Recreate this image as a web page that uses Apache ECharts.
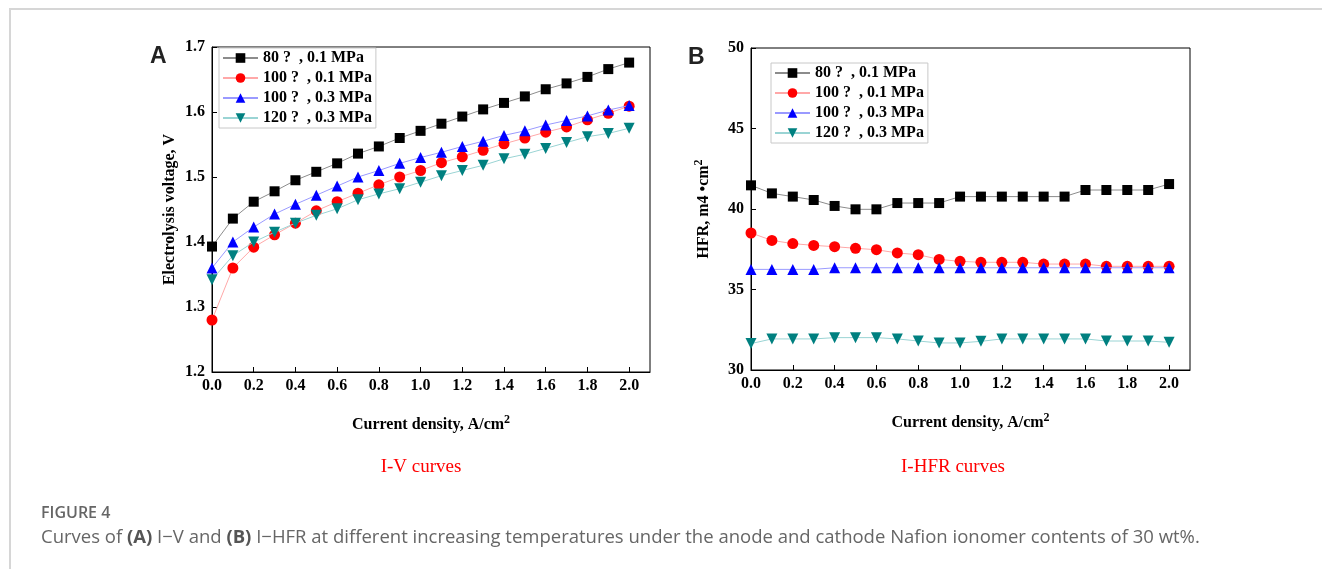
<!DOCTYPE html>
<html>
<head>
<meta charset="utf-8" />
<title>Figure 4</title>
<script src="https://cdn.jsdelivr.net/npm/echarts@6/dist/echarts.min.js"></script>
<style>
    html, body { margin: 0; padding: 0; background: #fff; }
    #frame { position: absolute; left: 9px; top: 8px; width: 1313px; height: 561px;
             border-top: 2px solid #d6d6d6; border-left: 2px solid #d6d6d6; }
    #main { position: absolute; left: 0; top: 0; width: 1322px; height: 569px; }
</style>
</head>
<body>
<div id="frame"></div>
<div id="main"></div>
<script type="text/javascript">
    // current density, A/cm2
    var currentDensity = [0.0, 0.1, 0.2, 0.3, 0.4, 0.5, 0.6, 0.7, 0.8, 0.9, 1.0,
                          1.1, 1.2, 1.3, 1.4, 1.5, 1.6, 1.7, 1.8, 1.9, 2.0];
    var seriesNames = ['80 ?  , 0.1 MPa', '100 ?  , 0.1 MPa', '100 ?  , 0.3 MPa', '120 ?  , 0.3 MPa'];

    // (A) electrolysis voltage, V
    var volt80_01  = [1.393, 1.436, 1.462, 1.478, 1.495, 1.508, 1.521, 1.536, 1.547, 1.560, 1.571,
                      1.582, 1.593, 1.604, 1.614, 1.624, 1.635, 1.644, 1.654, 1.666, 1.676];
    var volt100_01 = [1.280, 1.360, 1.392, 1.411, 1.429, 1.448, 1.462, 1.475, 1.488, 1.500, 1.510,
                      1.522, 1.531, 1.541, 1.551, 1.560, 1.569, 1.577, 1.588, 1.598, 1.609];
    var volt100_03 = [1.360, 1.400, 1.423, 1.443, 1.458, 1.472, 1.486, 1.500, 1.510, 1.521, 1.530,
                      1.538, 1.547, 1.555, 1.564, 1.571, 1.580, 1.587, 1.594, 1.603, 1.610];
    var volt120_03 = [1.342, 1.379, 1.400, 1.415, 1.429, 1.441, 1.451, 1.465, 1.474, 1.482, 1.492,
                      1.502, 1.510, 1.518, 1.528, 1.535, 1.544, 1.553, 1.562, 1.567, 1.575];

    // (B) HFR
    var hfr80_01  = [41.47, 40.97, 40.77, 40.56, 40.19, 39.98, 39.98, 40.37, 40.37, 40.37, 40.77,
                     40.77, 40.77, 40.77, 40.77, 40.77, 41.18, 41.18, 41.18, 41.18, 41.55];
    var hfr100_01 = [38.51, 38.05, 37.85, 37.74, 37.66, 37.56, 37.47, 37.27, 37.16, 36.87, 36.75,
                     36.69, 36.69, 36.69, 36.58, 36.58, 36.58, 36.44, 36.44, 36.44, 36.44];
    var hfr100_03 = [36.25, 36.25, 36.25, 36.25, 36.35, 36.35, 36.35, 36.35, 36.35, 36.35, 36.35,
                     36.35, 36.35, 36.35, 36.35, 36.35, 36.35, 36.35, 36.35, 36.35, 36.35];
    var hfr120_03 = [31.64, 31.93, 31.93, 31.93, 32.01, 32.01, 32.01, 31.93, 31.80, 31.68, 31.68,
                     31.78, 31.93, 31.93, 31.93, 31.93, 31.93, 31.80, 31.80, 31.80, 31.72];

    var symbols     = ['rect', 'circle', 'triangle', 'triangle'];
    var symbolRot   = [0, 0, 0, 180];
    var symbolSizes = [10, 11, 11, 11];
    var markColors  = ['#000000', '#ff0000', '#0000ff', '#008080'];
    var lineColors  = ['#8c8c8c', '#ffa8a8', '#9a9aff', '#9ad4d4'];

    var serif = 'Liberation Serif';

    function pairs(ys) {
        var out = [];
        for (var i = 0; i < currentDensity.length; i++) {
            out.push([currentDensity[i], ys[i]]);
        }
        return out;
    }

    function makeSeries(idx, arr, k) {
        return {
            name: seriesNames[k],
            type: 'line',
            xAxisIndex: idx,
            yAxisIndex: idx,
            data: pairs(arr),
            symbol: symbols[k],
            symbolRotate: symbolRot[k],
            symbolSize: symbolSizes[k],
            showAllSymbol: true,
            itemStyle: { color: markColors[k] },
            lineStyle: { color: lineColors[k], width: 1 },
            z: 3 + k,
            animation: false
        };
    }

    var nameStyle = {
        fontFamily: serif, fontWeight: 'bold', fontSize: 16, color: '#000',
        rich: { sup: { fontFamily: serif, fontWeight: 'bold', fontSize: 12, color: '#000', verticalAlign: 'top', padding: [0, 0, 9, 0] } }
    };

    function xAxisOpt(idx) {
        return {
            gridIndex: idx,
            type: 'value',
            min: 0, max: 2.1, interval: 0.2,
            name: 'Current density, A/cm{sup|2}',
            nameLocation: 'middle',
            nameGap: 42,
            nameTextStyle: nameStyle,
            axisLine: { show: true, lineStyle: { color: '#000', width: 1 } },
            axisTick: { show: true, inside: true, length: 5, lineStyle: { color: '#000' } },
            axisLabel: {
                margin: 6, showMaxLabel: false,
                fontFamily: serif, fontWeight: 'bold', fontSize: 16, color: '#000',
                formatter: function (v) { return v.toFixed(1); }
            },
            splitLine: { show: false }
        };
    }

    function yAxisOpt(idx, min, max, interval, name, gap, digits) {
        return {
            gridIndex: idx,
            type: 'value',
            min: min, max: max, interval: interval,
            name: name,
            nameLocation: 'middle',
            nameGap: gap,
            nameTextStyle: nameStyle,
            axisLine: { show: true, lineStyle: { color: '#000', width: 1 } },
            axisTick: { show: true, inside: true, length: 5, lineStyle: { color: '#000' } },
            axisLabel: {
                margin: 7,
                fontFamily: serif, fontWeight: 'bold', fontSize: 16, color: '#000',
                formatter: function (v) { return v.toFixed(digits); }
            },
            splitLine: { show: false }
        };
    }

    function legendOpt(left, top) {
        return {
            orient: 'vertical',
            left: left, top: top,
            data: seriesNames,
            itemWidth: 35, itemHeight: 12, itemGap: 4,
            padding: [2, 4, 2, 3],
            borderColor: '#c8c8c8', borderWidth: 1,
            backgroundColor: '#fff',
            textStyle: { fontFamily: serif, fontWeight: 'bold', fontSize: 16, color: '#000' }
        };
    }

    var myChart = echarts.init(document.getElementById('main'));

    myChart.setOption({
        animation: false,
        grid: [
            { left: 212, top: 47, width: 438, height: 325, show: true, borderColor: '#000', borderWidth: 1 },
            { left: 751, top: 48, width: 439, height: 322, show: true, borderColor: '#000', borderWidth: 1 }
        ],
        xAxis: [xAxisOpt(0), xAxisOpt(1)],
        yAxis: [
            yAxisOpt(0, 1.2, 1.7, 0.1, 'Electrolysis voltage, V', 34, 1),
            yAxisOpt(1, 30, 50, 5, 'HFR, m4 •cm{sup|2}', 37, 0)
        ],
        legend: [legendOpt(219, 48), legendOpt(771, 63)],
        series: [
            makeSeries(0, volt80_01, 0),
            makeSeries(0, volt100_01, 1),
            makeSeries(0, volt100_03, 2),
            makeSeries(0, volt120_03, 3),
            makeSeries(1, hfr80_01, 0),
            makeSeries(1, hfr100_01, 1),
            makeSeries(1, hfr100_03, 2),
            makeSeries(1, hfr120_03, 3)
        ],
        graphic: [
            { type: 'text', left: 150, top: 45, style: { text: 'A', font: 'bold 23px "Liberation Sans"', fill: '#222' } },
            { type: 'text', left: 688, top: 46, style: { text: 'B', font: 'bold 23px "Liberation Sans"', fill: '#222' } },
            { type: 'text', x: 421, y: 467, style: { text: 'I-V curves', font: '19px "Liberation Serif"', fill: '#ff0000', align: 'center', verticalAlign: 'middle' } },
            { type: 'text', x: 953, y: 467, style: { text: 'I-HFR curves', font: '19px "Liberation Serif"', fill: '#ff0000', align: 'center', verticalAlign: 'middle' } },
            { type: 'text', x: 41, y: 513, style: { text: 'FIGURE 4', font: '600 16px "Open Sans"', fill: '#666', verticalAlign: 'middle' } },
            {
                type: 'text', x: 41, y: 538,
                style: {
                    text: '{n|Curves of }{b|(A)}{n| I\u2212V and }{b|(B)}{n| I\u2212HFR at different increasing temperatures under the anode and cathode Nafion ionomer contents of 30 wt%.}',
                    verticalAlign: 'middle',
                    rich: {
                        n: { font: '18.5px "Open Sans"', fill: '#666' },
                        b: { font: 'bold 18.5px "Open Sans"', fill: '#555' }
                    }
                }
            }
        ]
    });
</script>
</body>
</html>
